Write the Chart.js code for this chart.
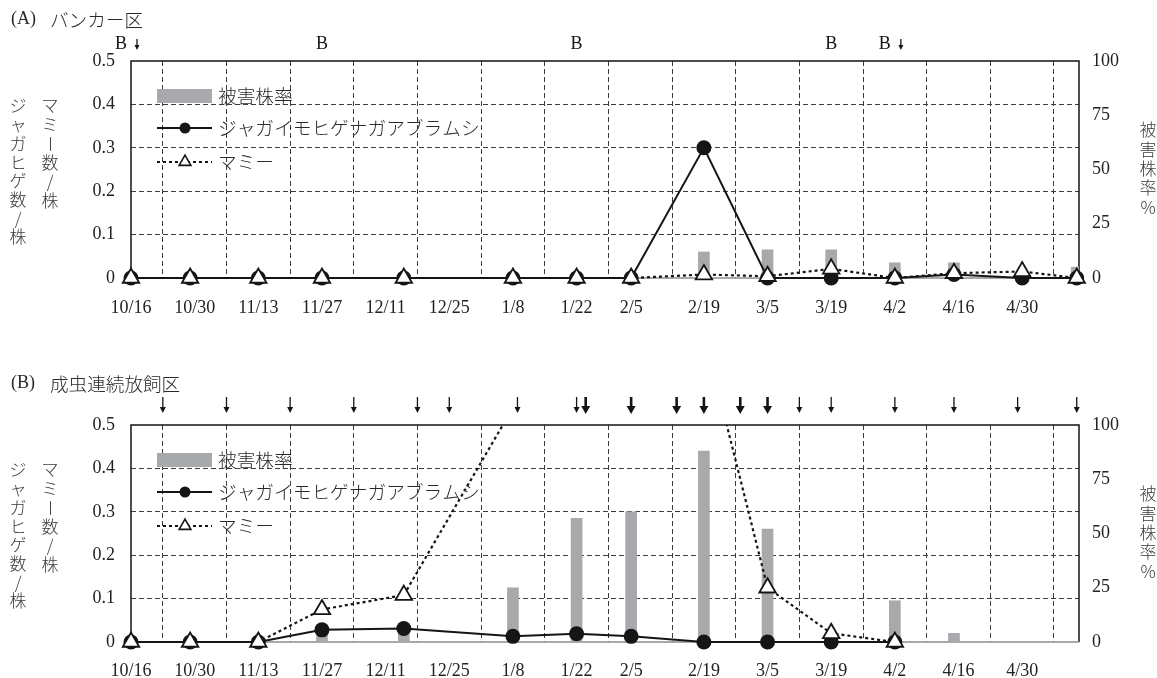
<!DOCTYPE html>
<html lang="ja">
<head>
<meta charset="utf-8">
<title>ジャガイモヒゲナガアブラムシ・マミー数と被害株率の推移</title>
<script src="https://cdn.jsdelivr.net/npm/chart.js@4.4.1/dist/chart.umd.min.js"></script>
<style>
  html, body { margin: 0; padding: 0; background: #fff; }
  #wrap { position: relative; width: 1157px; height: 678px; overflow: hidden; }
  canvas { position: absolute; left: 0; }
  #panelA { top: 0; }
  #panelB { top: 364px; }
</style>
</head>
<body>
<div id="wrap">
  <canvas id="panelA" width="1157" height="340"></canvas>
  <canvas id="panelB" width="1157" height="314"></canvas>
</div>
<script>
// 調査日（10/16 からの経過日数）
const surveyDays = [0, 13, 28, 42, 60, 84, 98, 110, 126, 140, 154, 168, 181, 196, 208];

// 縦の目盛線（2週間ごと）と日付ラベル
const gridDays = [14, 28, 42, 56, 70, 84, 98, 112, 126, 140, 154, 168, 182, 196];
const labelDays = [0, 14, 28, 42, 56, 70, 84, 98, 110, 126, 140, 154, 168, 182, 196];
const dateLabels = ['10/16', '10/30', '11/13', '11/27', '12/11', '12/25', '1/8', '1/22',
                    '2/5', '2/19', '3/5', '3/19', '4/2', '4/16', '4/30'];

const countTicks = [0, 0.1, 0.2, 0.3, 0.4, 0.5];
const rateTicks = [0, 25, 50, 75, 100];

const seriesNames = ['被害株率', 'ジャガイモヒゲナガアブラムシ', 'マミー'];

// (A) バンカー区
const aphidA  = [0, 0, 0, 0, 0, 0, 0, 0, 0.3, 0, 0, 0, 0.008, 0, 0];
const mummyA  = [0, 0, 0, 0, 0, 0, 0, 0, 0.008, 0.004, 0.021, 0, 0.011, 0.015, 0];
const damageA = [null, null, null, null, null, null, null, null, 12, 13, 13, 7, 7, null, 5];
const bankerDays = [0, 42, 98, 154, 168];
const bankerArrowDays = [0, 168];

// (B) 成虫連続放飼区
const aphidB  = [0, 0, 0, 0.028, 0.031, 0.013, 0.019, 0.013, 0, 0, 0, 0, null, null, null];
const mummyB  = [0, 0, 0, 0.075, 0.108, 0.54, 1.0, 1.2, 0.71, 0.125, 0.02, 0, null, null, null];
const damageB = [null, null, null, 3, 5, 25, 57, 60, 88, 52, null, 19, 4, null, null];
const releaseDays = [7, 21, 35, 49, 63, 70, 85, 98, 147, 154, 168, 181, 195, 208];
const heavyReleaseDays = [100, 110, 120, 126, 134, 140];

const ink = '#151515';
const gridInk = '#3c3c3c';
const barGray = '#a8a9ac';
const serif = '"Liberation Serif", "DejaVu Serif", serif';
const jp = '"Noto Sans CJK JP", sans-serif';
const dayMax = 208.5;

function toXY(values) {
  return surveyDays
    .map((d, i) => ({ x: d, y: values[i] }))
    .filter(p => p.y !== null && p.y !== undefined);
}

function arrow(ctx, x, y0, y1, lw, hw, hl) {
  ctx.lineWidth = lw;
  ctx.beginPath();
  ctx.moveTo(x, y0);
  ctx.lineTo(x, y1 - hl + 1);
  ctx.stroke();
  ctx.beginPath();
  ctx.moveTo(x - hw / 2, y1 - hl);
  ctx.lineTo(x + hw / 2, y1 - hl);
  ctx.lineTo(x, y1);
  ctx.closePath();
  ctx.fill();
}

function column(ctx, text, x, y0, step) {
  [...text].forEach((ch, i) => {
    const y = y0 + i * step;
    if (ch === 'ー') {
      ctx.save();
      ctx.translate(x, y);
      ctx.rotate(Math.PI / 2);
      ctx.fillText(ch, 0, 0);
      ctx.restore();
    } else {
      ctx.fillText(ch, x, y);
    }
  });
}

// 枠線：上・左・右は黒、0 の軸線は灰色
const framePlugin = {
  id: 'frame',
  beforeDatasetsDraw(chart) {
    const { ctx, chartArea: a } = chart;
    ctx.save();
    ctx.setLineDash([]);
    ctx.strokeStyle = ink;
    ctx.lineWidth = 1.5;
    ctx.beginPath();
    ctx.moveTo(a.left, a.bottom);
    ctx.lineTo(a.left, a.top);
    ctx.lineTo(a.right, a.top);
    ctx.lineTo(a.right, a.bottom);
    ctx.stroke();
    ctx.strokeStyle = '#8c8c8c';
    ctx.beginPath();
    ctx.moveTo(a.left, a.bottom);
    ctx.lineTo(a.right, a.bottom);
    ctx.stroke();
    ctx.restore();
  }
};

// グラフ内の凡例
const keyPlugin = {
  id: 'key',
  afterDatasetsDraw(chart) {
    const { ctx, chartArea: a } = chart;
    const x0 = a.left + 26, x1 = a.left + 81, xm = a.left + 54, tx = a.left + 87;
    ctx.save();
    ctx.font = '300 18.7px ' + jp;
    ctx.textBaseline = 'middle';
    ctx.textAlign = 'left';

    ctx.fillStyle = barGray;
    ctx.fillRect(x0, a.top + 28, x1 - x0, 14);
    ctx.fillStyle = '#2a2a2a';
    ctx.fillText(seriesNames[0], tx, a.top + 35);

    let y = a.top + 67;
    ctx.strokeStyle = ink;
    ctx.lineWidth = 2;
    ctx.beginPath(); ctx.moveTo(x0, y); ctx.lineTo(x1, y); ctx.stroke();
    ctx.fillStyle = ink;
    ctx.beginPath(); ctx.arc(xm, y, 5.5, 0, Math.PI * 2); ctx.fill();
    ctx.fillStyle = '#2a2a2a';
    ctx.fillText(seriesNames[1], tx, y);

    y = a.top + 101;
    ctx.setLineDash([3, 3]);
    ctx.lineWidth = 2.2;
    ctx.beginPath(); ctx.moveTo(x0, y); ctx.lineTo(x1, y); ctx.stroke();
    ctx.setLineDash([]);
    const r = 6.8;
    ctx.beginPath();
    ctx.moveTo(xm, y - r);
    ctx.lineTo(xm + r * 0.866, y + r / 2);
    ctx.lineTo(xm - r * 0.866, y + r / 2);
    ctx.closePath();
    ctx.fillStyle = '#fff';
    ctx.fill();
    ctx.lineWidth = 1.6;
    ctx.stroke();
    ctx.fillStyle = '#2a2a2a';
    ctx.fillText(seriesNames[2], tx, y);
    ctx.restore();
  }
};

// 見出し・軸タイトル・処理日の印
function makeNotes(panel) {
  return {
    id: 'notes',
    afterDraw(chart) {
      const { ctx, chartArea: a } = chart;
      const xs = chart.scales.x;
      ctx.save();
      ctx.fillStyle = '#2a2a2a';
      ctx.textBaseline = 'middle';
      ctx.textAlign = 'left';
      ctx.font = '18px ' + serif;
      ctx.fillText(panel.tag, 11, 19.5);
      ctx.font = '300 18.6px ' + jp;
      ctx.fillText(panel.title, 50, 19.5);

      ctx.textAlign = 'center';
      ctx.fillStyle = '#3a3a3a';
      ctx.font = '300 17px ' + jp;
      column(ctx, 'ジャガヒゲ数/株', 18, 106, 18.7);
      column(ctx, 'マミー数/株', 50, 106, 19);
      column(ctx, '被害株率%', 1148, 130, 19.3);

      ctx.fillStyle = ink;
      ctx.strokeStyle = ink;
      if (panel.banker) {
        ctx.font = '18px ' + serif;
        bankerDays.forEach(d => {
          const x = xs.getPixelForValue(d);
          if (bankerArrowDays.includes(d)) {
            ctx.fillText('B', x - 10, a.top - 17);
            arrow(ctx, x + 6, a.top - 22, a.top - 11, 1.3, 5, 5);
          } else {
            ctx.fillText('B', x, a.top - 17);
          }
        });
      }
      if (panel.release) {
        releaseDays.forEach(d => arrow(ctx, xs.getPixelForValue(d), a.top - 28, a.top - 12, 1.3, 6, 6));
        heavyReleaseDays.forEach(d => arrow(ctx, xs.getPixelForValue(d), a.top - 28, a.top - 11, 2.6, 9, 8));
      }
      ctx.restore();
    }
  };
}

function buildPanel(id, panel) {
  const edgeClip = { top: 0, left: 14, right: 14, bottom: 14 };
  return new Chart(document.getElementById(id), {
    type: 'line',
    data: {
      datasets: [
        {
          label: seriesNames[2],
          data: toXY(panel.mummy),
          xAxisID: 'x', yAxisID: 'y', order: 0,
          borderColor: ink, borderWidth: 2.2, borderDash: [3, 3],
          pointStyle: 'triangle', pointRadius: 9.5,
          pointBackgroundColor: '#fff', pointBorderColor: ink, pointBorderWidth: 1.8,
          tension: 0, clip: edgeClip
        },
        {
          label: seriesNames[1],
          data: toXY(panel.aphid),
          xAxisID: 'x', yAxisID: 'y', order: 1,
          borderColor: ink, borderWidth: 2,
          pointStyle: 'circle', pointRadius: 7.5,
          pointBackgroundColor: ink, pointBorderColor: ink, pointBorderWidth: 0,
          tension: 0, clip: edgeClip
        },
        {
          type: 'bar',
          label: seriesNames[0],
          data: toXY(panel.damage),
          xAxisID: 'x', yAxisID: 'y2', order: 2,
          backgroundColor: barGray, borderWidth: 0, barThickness: 11
        }
      ]
    },
    options: {
      responsive: false,
      animation: false,
      devicePixelRatio: 1,
      layout: { padding: { top: 61, left: 0, right: 0, bottom: 0 } },
      plugins: { legend: { display: false }, tooltip: { enabled: false } },
      scales: {
        x: {
          type: 'linear', position: 'bottom', min: 0, max: dayMax, offset: false,
          afterBuildTicks: s => { s.ticks = gridDays.map(v => ({ value: v })); },
          afterFit: s => { s.height = 0; },
          ticks: { display: false },
          grid: { color: gridInk, lineWidth: 1, drawTicks: false },
          border: { display: false, dash: [5, 3] }
        },
        xl: {
          type: 'linear', position: 'bottom', min: 0, max: dayMax, offset: false,
          afterBuildTicks: s => { s.ticks = labelDays.map(v => ({ value: v })); },
          afterFit: s => { s.height = panel.axisH; },
          ticks: {
            autoSkip: false, maxRotation: 0, minRotation: 0,
            padding: panel.labelPad, color: '#222',
            font: { family: serif, size: 18 },
            callback: (v, i) => dateLabels[i]
          },
          grid: { display: false, drawTicks: false },
          border: { display: false }
        },
        y: {
          position: 'left', min: 0, max: 0.5,
          afterBuildTicks: s => { s.ticks = countTicks.map(v => ({ value: v })); },
          afterFit: s => { s.width = 131; },
          ticks: {
            padding: 16, color: '#222', font: { family: serif, size: 18 },
            callback: v => (v === 0 ? '0' : v.toFixed(1))
          },
          grid: {
            color: c => (c.tick && (c.tick.value === 0 || c.tick.value === 0.5) ? 'rgba(0,0,0,0)' : gridInk),
            lineWidth: 1, drawTicks: false
          },
          border: { display: false, dash: [5, 3] }
        },
        y2: {
          position: 'right', min: 0, max: 100,
          afterBuildTicks: s => { s.ticks = rateTicks.map(v => ({ value: v })); },
          afterFit: s => { s.width = 78; },
          ticks: { padding: 13, color: '#222', font: { family: serif, size: 18 } },
          grid: { display: false, drawTicks: false },
          border: { display: false }
        }
      }
    },
    plugins: [framePlugin, keyPlugin, makeNotes(panel)]
  });
}

buildPanel('panelA', {
  tag: '(A)', title: 'バンカー区',
  aphid: aphidA, mummy: mummyA, damage: damageA,
  axisH: 62, labelPad: 19, banker: true
});

buildPanel('panelB', {
  tag: '(B)', title: '成虫連続放飼区',
  aphid: aphidB, mummy: mummyB, damage: damageB,
  axisH: 36, labelPad: 18, release: true
});
</script>
</body>
</html>
